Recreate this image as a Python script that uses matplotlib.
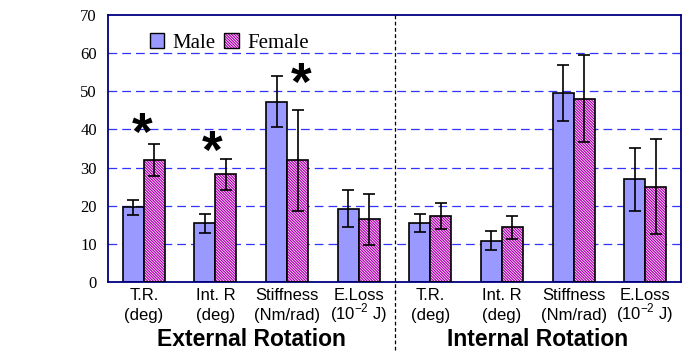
import matplotlib.pyplot as plt
import numpy as np
from matplotlib.patches import Patch

plt.rcParams['hatch.color'] = '#b000b0'
plt.rcParams['hatch.linewidth'] = 0.9
plt.rcParams['mathtext.fontset'] = 'custom'
plt.rcParams['mathtext.rm'] = 'Liberation Sans'

# data
cat_top = ['T.R.', 'Int. R', 'Stiffness', 'E.Loss', 'T.R.', 'Int. R', 'Stiffness', 'E.Loss']
cat_unit = ['(deg)', '(deg)', '(Nm/rad)', r'(10$^{-2}$ J)', '(deg)', '(deg)', '(Nm/rad)', r'(10$^{-2}$ J)']
male = [19.6, 15.4, 47.3, 19.2, 15.4, 10.8, 49.6, 26.9]
male_sd = [2.0, 2.5, 6.7, 4.8, 2.4, 2.5, 7.3, 8.3]
female = [31.9, 28.2, 31.9, 16.5, 17.3, 14.3, 48.1, 25.0]
female_sd = [4.2, 4.1, 13.2, 6.7, 3.4, 3.0, 11.5, 12.5]
star_x = [-0.03, 0.95, 2.2]
star_y = [38.3, 33.6, 51.4]
groups = ['External Rotation', 'Internal Rotation']

male_color = '#9999ff'
navy = '#000080'
hatch = '\\' * 12

fig = plt.figure(figsize=(6.9, 3.52), dpi=100)
ax = fig.add_axes([0.1565, 0.199, 0.8305, 0.758])

x = np.arange(len(cat_top))
w = 0.293

# grid
for yv in range(10, 70, 10):
    ax.axhline(yv, color='#3333ff', lw=0.9, ls=(0, (7, 4)), zorder=0)

ax.bar(x - w/2, male, w, color=male_color, edgecolor='black', lw=1.2, zorder=2)
ax.bar(x + w/2, female, w, color='white', hatch=hatch, lw=0, zorder=2)
ax.bar(x + w/2, female, w, fill=False, edgecolor='black', lw=1.2, zorder=3)

ax.errorbar(x - w/2, male, yerr=male_sd, fmt='none', ecolor='black', elinewidth=1.2,
            capsize=4.5, capthick=1.2, zorder=4)
ax.errorbar(x + w/2, female, yerr=female_sd, fmt='none', ecolor='black', elinewidth=1.2,
            capsize=4.5, capthick=1.2, zorder=4)

for sx, sy in zip(star_x, star_y):
    ax.text(sx, sy, '*', fontsize=38, fontweight='bold', family='Liberation Sans',
            ha='center', va='center', zorder=5)

# divider between the two groups
ax.plot([3.5, 3.5], [1, -0.27], transform=ax.get_xaxis_transform(), color='black',
        lw=0.9, ls=(0, (3, 2)), clip_on=False, zorder=5)

ax.set_xlim(-0.5, 7.5)
ax.set_ylim(0, 70)
ax.set_yticks(range(0, 80, 10))
ax.set_xticks([])
for lab in ax.get_yticklabels():
    lab.set_family('Liberation Serif')
    lab.set_fontsize(12)
ax.tick_params(length=0)
ax.tick_params(axis='y', pad=8)
for s in ax.spines.values():
    s.set_color(navy)
    s.set_linewidth(1.3)

tr = ax.get_xaxis_transform()
for xi, t1, t2 in zip(x, cat_top, cat_unit):
    ax.text(xi, -0.067, t1, transform=tr, ha='center', va='baseline',
            fontsize=12, family='Liberation Sans')
    ax.text(xi, -0.142, t2, transform=tr, ha='center', va='baseline',
            fontsize=12, family='Liberation Sans')

for gx, name in zip([1.5, 5.5], groups):
    ax.text(gx, -0.215, name, transform=tr, ha='center', va='center',
            fontsize=16.5, fontweight='bold', family='Liberation Sans')

h_male = Patch(facecolor=male_color, edgecolor='black', lw=1)
h_fem = (Patch(facecolor='white', hatch=hatch, lw=0),
         Patch(fill=False, edgecolor='black', lw=1))
ax.legend([h_male, h_fem], ['Male', 'Female'], loc='center left', bbox_to_anchor=(0.04, 0.895),
          ncol=2, frameon=False, handlelength=0.7, handleheight=0.7, handletextpad=0.4,
          columnspacing=0.4, prop={'family': 'Liberation Serif', 'size': 15})

plt.savefig('out.png', dpi=100)
